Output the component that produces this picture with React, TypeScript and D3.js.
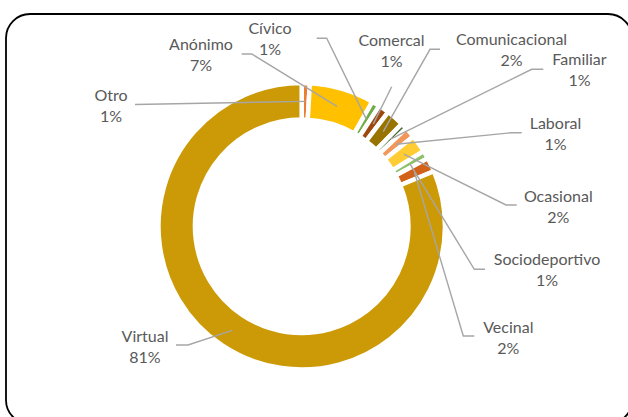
import React from 'react';
import * as d3 from 'd3';

// categories, read clockwise from 12 o'clock
const categories = ['Otro', 'Anónimo', 'Cívico', 'Comercal', 'Comunicacional', 'Familiar', 'Laboral', 'Ocasional', 'Sociodeportivo', 'Vecinal', 'Virtual'];
// share of each category (%), estimated from the ring
const shares = [0.9, 7.3, 0.9, 1.2, 2.0, 0.7, 1.2, 2.0, 0.9, 1.6, 81.2];
const sliceColors = ['#ED7D31', '#FFC000', '#70AD47', '#9E480E', '#997300', '#43682B', '#F1975A', '#FFCD33', '#8CC168', '#D2621A', '#CC9A06'];

// label layout: text centre x, first baseline y, leader start and optional elbow
const labelLayout = [
  { x: 111, y: 101, start: [135, 104.5], elbow: null },
  { x: 201, y: 49.5, start: [241.7, 54], elbow: [251.7, 54] },
  { x: 270, y: 33.5, start: [316.7, 38.3], elbow: [326.7, 38.3] },
  { x: 391.5, y: 45.7, start: [391.7, 86.7], elbow: null },
  { x: 511.5, y: 45, start: [440, 49.3], elbow: [430, 49.3] },
  { x: 579.5, y: 65, start: [543.3, 69.3], elbow: [531.7, 69.3] },
  { x: 555.5, y: 129.3, start: [521.7, 132.7], elbow: [511.7, 132.7] },
  { x: 558.3, y: 201.5, start: [516.7, 205], elbow: [506, 205] },
  { x: 547, y: 265.3, start: [485, 269.3], elbow: [474.3, 269.3] },
  { x: 508.3, y: 332.5, start: [474.3, 336], elbow: [463.3, 336] },
  { x: 145, y: 341.5, start: [176, 345], elbow: [188, 345] },
];

const W = 628;
const H = 417;
const cx = 301.7;
const cy = 226.3;
const gap = 4.5;
const outerR = 141 + gap / 2;
const innerR = 109 - gap / 2;

const App: React.FC = () => {
  const total = d3.sum(shares);
  const data = categories.map((c, i) => ({ name: c, value: shares[i], i }));
  const pie = d3.pie<{ name: string; value: number; i: number }>().sort(null).value(d => d.value);
  const arcs = pie(data);
  const arc = d3.arc<d3.PieArcDatum<{ name: string; value: number; i: number }>>()
    .innerRadius(innerR)
    .outerRadius(outerR);
  const mid = d3.arc<d3.PieArcDatum<{ name: string; value: number; i: number }>>()
    .innerRadius(109)
    .outerRadius(141);

  return (
    <svg width={W} height={H} style={{ position: 'absolute', left: 0, top: 0 }}
      fontFamily="Lato, 'Open Sans', sans-serif">
      <rect x={0} y={0} width={W} height={H} fill="#ffffff" />
      <rect x={6} y={14} width={626} height={410} rx={24} ry={24} fill="none" stroke="#000000" strokeWidth={1.8} />
      <g transform={`translate(${cx},${cy})`}>
        {arcs.map((a, i) => (
          <path key={i} d={arc(a) || ''} fill={sliceColors[i]} stroke="#ffffff" strokeWidth={gap} />
        ))}
      </g>
      {arcs.map((a, i) => {
        const L = labelLayout[i];
        const [mx, my] = mid.centroid(a);
        const pts = [L.start, ...(L.elbow ? [L.elbow] : []), [cx + mx, cy + my]];
        return (
          <polyline key={'l' + i} points={pts.map(p => p.join(',')).join(' ')}
            fill="none" stroke="#A6A6A6" strokeWidth={1.4} />
        );
      })}
      {arcs.map((a, i) => {
        const L = labelLayout[i];
        const pct = Math.round((a.data.value / total) * 100) + '%';
        return (
          <text key={'t' + i} x={L.x} y={L.y} textAnchor="middle" fontSize={16} fill="#595959">
            <tspan x={L.x}>{a.data.name}</tspan>
            <tspan x={L.x} dy={21}>{pct}</tspan>
          </text>
        );
      })}
    </svg>
  );
};

export default App;
